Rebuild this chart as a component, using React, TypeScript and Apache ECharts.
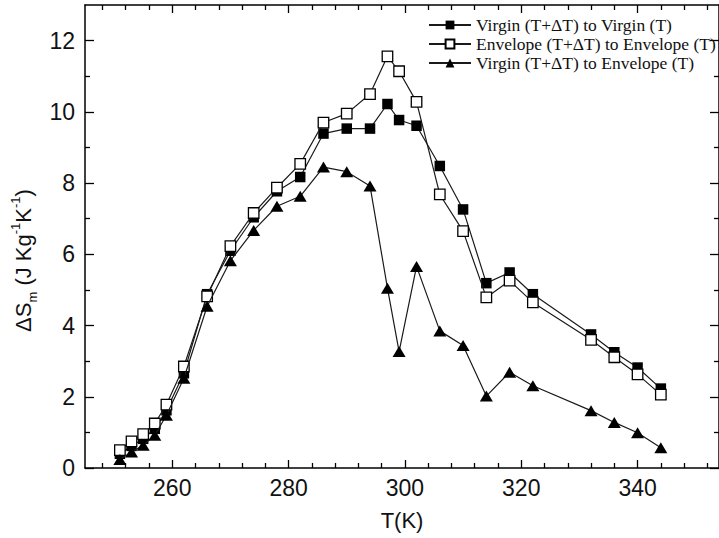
import React, { useEffect, useRef } from 'react';
import * as echarts from 'echarts';

const seriesNames = [
  'Virgin (T+ΔT) to Virgin (T)',
  'Envelope (T+ΔT) to Envelope (T)',
  'Virgin (T+ΔT) to Envelope (T)',
];

const temps = [251, 253, 255, 257, 259, 262, 266, 270, 274, 278, 282, 286, 290, 294, 297, 299, 302, 306, 310, 314, 318, 322, 332, 336, 340, 344];

const virginVirgin = [0.40, 0.62, 0.82, 1.10, 1.62, 2.66, 4.88, 6.10, 7.04, 7.77, 8.17, 9.39, 9.53, 9.53, 10.22, 9.77, 9.61, 8.48, 7.26, 5.19, 5.49, 4.88, 3.75, 3.25, 2.82, 2.23];

const envelopeEnvelope = [0.50, 0.75, 0.95, 1.25, 1.78, 2.85, 4.82, 6.23, 7.16, 7.87, 8.54, 9.70, 9.95, 10.50, 11.56, 11.14, 10.28, 7.68, 6.65, 4.79, 5.26, 4.65, 3.60, 3.11, 2.63, 2.06];

const virginEnvelope = [0.24, 0.45, 0.64, 0.92, 1.48, 2.52, 4.54, 5.82, 6.67, 7.35, 7.63, 8.45, 8.32, 7.92, 5.05, 3.27, 5.66, 3.85, 3.44, 2.02, 2.69, 2.31, 1.61, 1.28, 0.99, 0.57];

const xMajorTicks = [260, 280, 300, 320, 340];
const xMinorTicks = [248, 252, 256, 264, 268, 272, 276, 284, 288, 292, 296, 304, 308, 312, 316, 324, 328, 332, 336, 344, 348, 352];
const yMajorTicks = [0, 2, 4, 6, 8, 10, 12];
const yMinorTicks = [1, 3, 5, 7, 9, 11];

const X_MIN = 245;
const X_MAX = 354;
const Y_MIN = 0;
const Y_MAX = 13;

export default function App() {
  const ref = useRef<HTMLDivElement>(null);

  useEffect(() => {
    if (!ref.current) return;
    const chart = echarts.init(ref.current, null, { renderer: 'svg' });
    const sans = '"Liberation Sans", Arial, sans-serif';
    const serif = '"Liberation Serif", "Times New Roman", serif';
    const pairs = (vals: number[]) => temps.map((t, i) => [t, vals[i]]);

    const xAxisBase = (position: 'top' | 'bottom', ticks: number[], len: number, showLine: boolean, labels: boolean) => ({
      type: 'value',
      gridIndex: 0,
      position,
      min: X_MIN,
      max: X_MAX,
      splitLine: { show: false },
      axisLine: { show: showLine, onZero: false, lineStyle: { color: '#000', width: 1.5 } },
      axisTick: { show: true, inside: true, length: len, customValues: ticks, lineStyle: { color: '#000', width: 1.3 } },
      axisLabel: labels
        ? { show: true, customValues: xMajorTicks, fontFamily: sans, fontSize: 23, color: '#111', margin: 8 }
        : { show: false },
    });

    const yAxisBase = (position: 'left' | 'right', ticks: number[], len: number, showLine: boolean, labels: boolean) => ({
      type: 'value',
      gridIndex: 0,
      position,
      min: Y_MIN,
      max: Y_MAX,
      splitLine: { show: false },
      axisLine: { show: showLine, onZero: false, lineStyle: { color: '#000', width: 1.5 } },
      axisTick: { show: true, inside: true, length: len, customValues: ticks, lineStyle: { color: '#000', width: 1.3 } },
      axisLabel: labels
        ? { show: true, customValues: yMajorTicks, fontFamily: sans, fontSize: 23, color: '#111', margin: 10 }
        : { show: false },
    });

    const lineStyle = { color: '#1a1a1a', width: 1.2 };

    chart.setOption({
      animation: false,
      backgroundColor: '#fff',
      grid: { left: 85, top: 5, width: 635, height: 463, containLabel: false },
      legend: {
        orient: 'vertical',
        left: 423,
        top: 11,
        itemWidth: 42,
        itemHeight: 11,
        itemGap: 1,
        data: seriesNames,
        textStyle: { fontFamily: serif, fontSize: 17.5, color: '#111' },
      },
      xAxis: [
        {
          ...xAxisBase('bottom', xMajorTicks, 8, true, true),
          name: 'T(K)',
          nameLocation: 'middle',
          nameGap: 41,
          nameTextStyle: { fontFamily: sans, fontSize: 22, color: '#111' },
        },
        xAxisBase('bottom', xMinorTicks, 5, false, false),
        xAxisBase('top', xMajorTicks, 8, true, false),
        xAxisBase('top', xMinorTicks, 5, false, false),
      ],
      yAxis: [
        {
          ...yAxisBase('left', yMajorTicks, 9, true, true),
          name: '{a|ΔS}{sub|m}{a| (J Kg}{sup|-1}{a|K}{sup|-1}{a|)}',
          nameLocation: 'middle',
          nameRotate: 90,
          nameGap: 45,
          nameTextStyle: {
            fontFamily: sans,
            fontSize: 22,
            color: '#111',
            padding: [0, 48, 0, 0],
            rich: {
              a: { fontFamily: sans, fontSize: 22, color: '#111', lineHeight: 30, verticalAlign: 'middle' },
              sub: { fontFamily: sans, fontSize: 13, color: '#111', lineHeight: 13, verticalAlign: 'bottom' },
              sup: { fontFamily: sans, fontSize: 13, color: '#111', lineHeight: 13, verticalAlign: 'top' },
            },
          },
        },
        yAxisBase('left', yMinorTicks, 5, false, false),
        yAxisBase('right', yMajorTicks, 9, true, false),
        yAxisBase('right', yMinorTicks, 5, false, false),
      ],
      series: [
        {
          name: seriesNames[0],
          type: 'line',
          xAxisIndex: 0,
          yAxisIndex: 0,
          data: pairs(virginVirgin),
          symbol: 'rect',
          symbolSize: 10.5,
          itemStyle: { color: '#000' },
          lineStyle,
          z: 2,
        },
        {
          name: seriesNames[1],
          type: 'line',
          xAxisIndex: 0,
          yAxisIndex: 0,
          data: pairs(envelopeEnvelope),
          symbol: 'rect',
          symbolSize: 10.5,
          itemStyle: { color: '#fff', borderColor: '#000', borderWidth: 1.3 },
          lineStyle,
          z: 3,
        },
        {
          name: seriesNames[2],
          type: 'line',
          xAxisIndex: 0,
          yAxisIndex: 0,
          data: pairs(virginEnvelope),
          symbol: 'triangle',
          symbolSize: [13, 11],
          itemStyle: { color: '#000' },
          lineStyle,
          z: 4,
        },
      ],
    });

    return () => chart.dispose();
  }, []);

  return (
    <div
      ref={ref}
      style={{ position: 'fixed', left: 0, top: 0, width: 719, height: 538, background: '#fff' }}
    />
  );
}
